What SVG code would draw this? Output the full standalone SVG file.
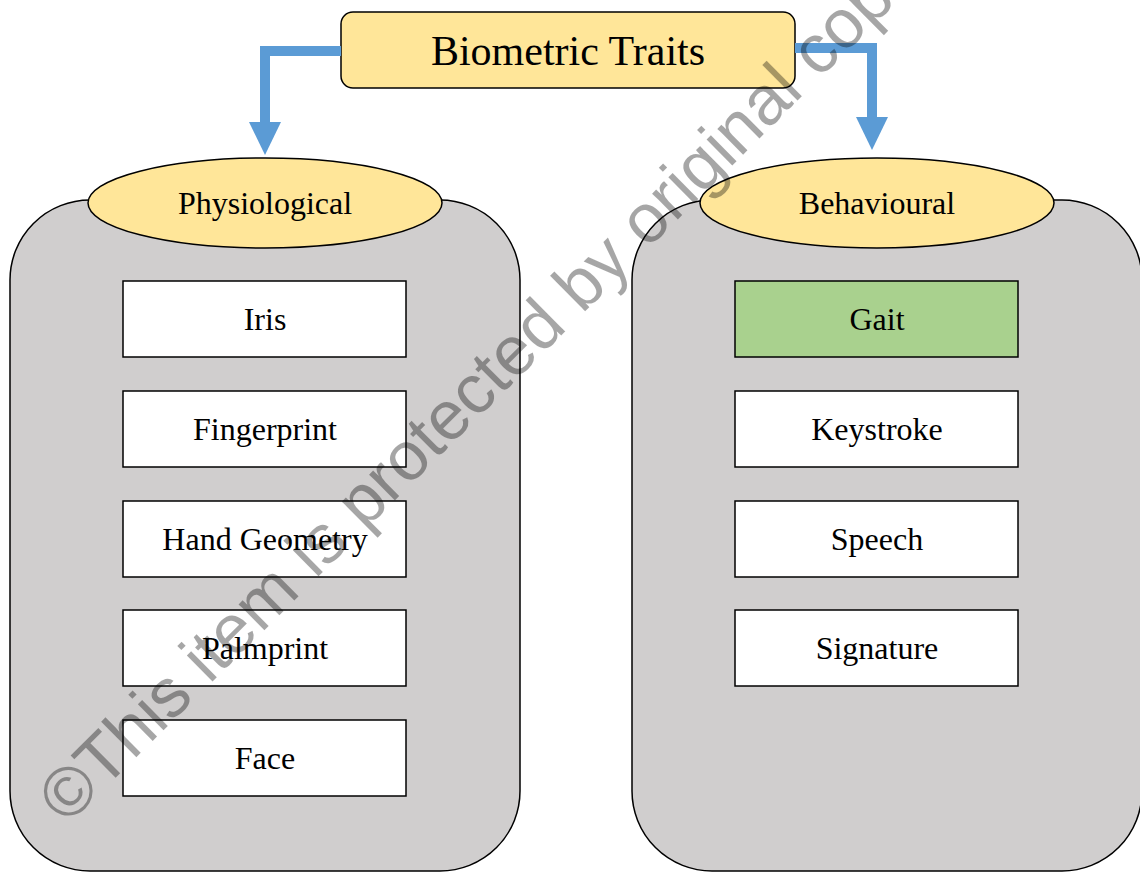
<svg xmlns="http://www.w3.org/2000/svg" width="1140" height="872" viewBox="0 0 1140 872">
  <defs>
    <style>
      .container { fill: #D0CECE; stroke: #000; stroke-width: 1.5; }
      .oval { fill: #FFE699; stroke: #000; stroke-width: 1.5; }
      .box { fill: #FFFFFF; stroke: #000; stroke-width: 1.5; }
      .box.green { fill: #A9D18E; }
      .title { fill: #FFE699; stroke: #000; stroke-width: 1.5; }
      .lbl { font-family: "Liberation Serif", "Times New Roman", serif; font-size: 32px; fill: #000; text-anchor: middle; }
      .big { font-size: 42px; }
      .conn { fill: none; stroke: #5B9BD5; stroke-width: 10; stroke-linejoin: miter; }
      .wm { font-family: "Liberation Sans", Arial, sans-serif; font-size: 69px; fill: #000; fill-opacity: 0.35; }
    </style>
    <marker id="head" markerUnits="userSpaceOnUse" markerWidth="34" markerHeight="34" refX="0" refY="16" orient="auto">
      <path d="M0,0 L33,16 L0,32 Z" fill="#5B9BD5"/>
    </marker>
  </defs>
  <rect width="1140" height="872" fill="#FFFFFF"/>

  <g id="physiological-group">
    <rect class="container" x="10" y="200" width="510" height="671" rx="80" ry="80"/>
    <g id="physiological">
      <ellipse class="oval" cx="265" cy="203" rx="177" ry="45"/>
      <text class="lbl" x="265" y="214">Physiological</text>
    </g>
    <g id="iris">
      <rect class="box" x="123" y="281" width="283" height="76"/>
      <text class="lbl" x="265" y="330">Iris</text>
    </g>
    <g id="fingerprint">
      <rect class="box" x="123" y="391" width="283" height="76"/>
      <text class="lbl" x="265" y="440">Fingerprint</text>
    </g>
    <g id="hand-geometry">
      <rect class="box" x="123" y="501" width="283" height="76"/>
      <text class="lbl" x="265" y="550">Hand Geometry</text>
    </g>
    <g id="palmprint">
      <rect class="box" x="123" y="610" width="283" height="76"/>
      <text class="lbl" x="265" y="659">Palmprint</text>
    </g>
    <g id="face">
      <rect class="box" x="123" y="720" width="283" height="76"/>
      <text class="lbl" x="265" y="769">Face</text>
    </g>
  </g>

  <g id="behavioural-group">
    <rect class="container" x="632" y="200" width="510" height="671" rx="80" ry="80"/>
    <g id="behavioural">
      <ellipse class="oval" cx="877" cy="203" rx="177" ry="45"/>
      <text class="lbl" x="877" y="214">Behavioural</text>
    </g>
    <g id="gait">
      <rect class="box green" x="735" y="281" width="283" height="76"/>
      <text class="lbl" x="877" y="330">Gait</text>
    </g>
    <g id="keystroke">
      <rect class="box" x="735" y="391" width="283" height="76"/>
      <text class="lbl" x="877" y="440">Keystroke</text>
    </g>
    <g id="speech">
      <rect class="box" x="735" y="501" width="283" height="76"/>
      <text class="lbl" x="877" y="550">Speech</text>
    </g>
    <g id="signature">
      <rect class="box" x="735" y="610" width="283" height="76"/>
      <text class="lbl" x="877" y="659">Signature</text>
    </g>
  </g>

  <g id="biometric-traits">
    <rect class="title" x="341" y="12" width="454" height="76" rx="12" ry="12"/>
    <text class="lbl big" x="568" y="65">Biometric Traits</text>
  </g>

  <g id="connectors">
    <path class="conn" d="M341,51 H265 V122" marker-end="url(#head)"/>
    <path class="conn" d="M795,48 H872 V117" marker-end="url(#head)"/>
  </g>

  <g id="watermark">
    <text class="wm" transform="translate(67,826) rotate(-44.8)">©This item is protected by original cop</text>
  </g>
</svg>
